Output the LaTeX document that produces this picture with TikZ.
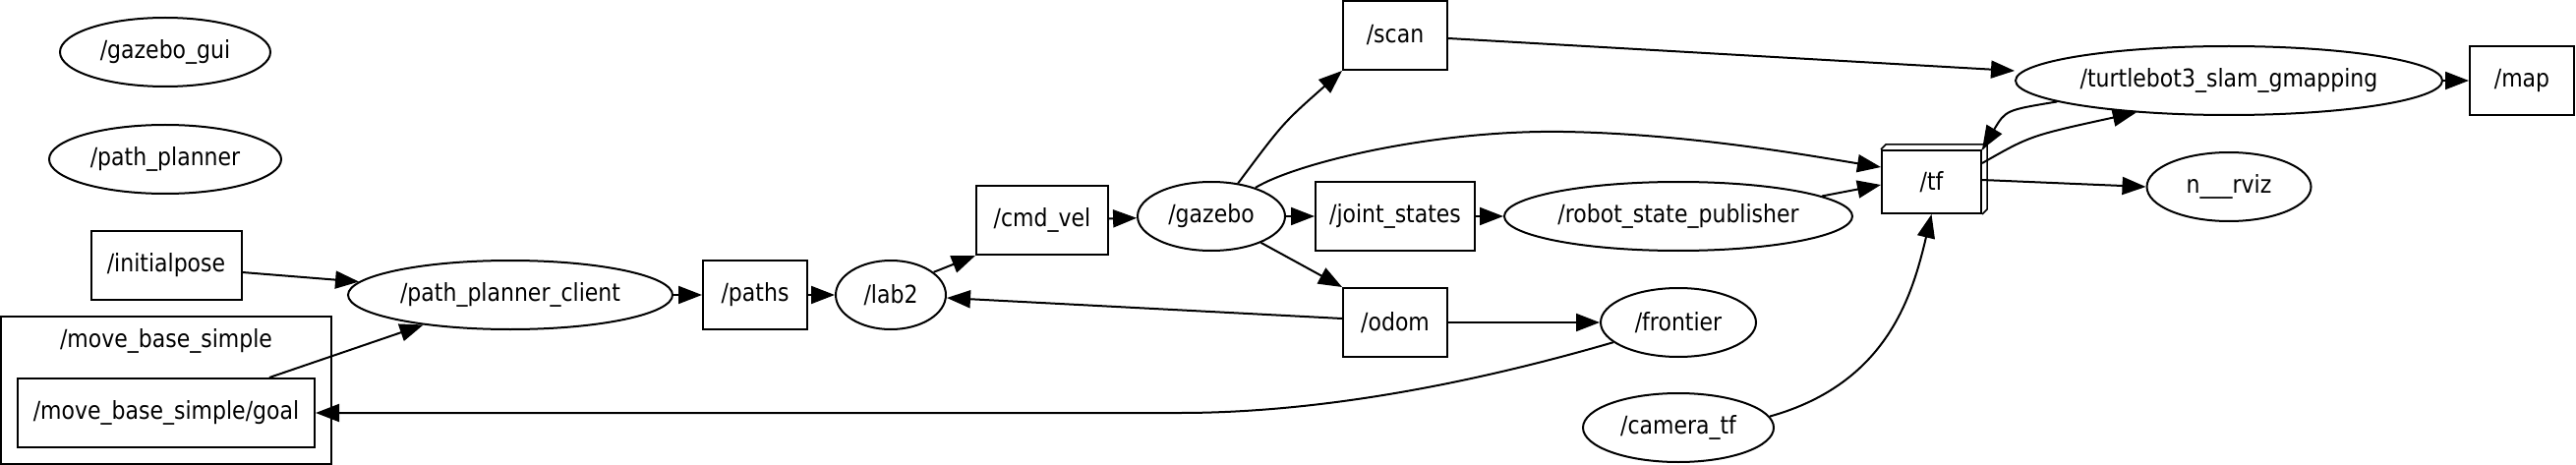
\documentclass[tikz,border=0pt]{standalone}
\usepackage{fontspec}
\setmainfont{DejaVu Sans}[FakeStretch=0.88]
\usetikzlibrary{arrows.meta,positioning,calc,shapes.geometric}

\begin{document}
\begin{tikzpicture}[x=1pt,y=-1pt,>={Triangle[length=24pt,width=18pt]},line width=2pt,
  every node/.style={font=\fontsize{25}{28}\selectfont,inner sep=0pt},
  rosnode/.style={draw,ellipse,minimum height=70pt},
  topic/.style={draw,rectangle,minimum height=70pt,minimum width=106pt}]
\useasboundingbox (0,0) rectangle (2620,473);

\node[rosnode,minimum width=214pt] (gui) at (168,53) {/gazebo\_gui};
\node[rosnode,minimum width=236pt] (planner) at (168,162) {/path\_planner};
\node[topic,minimum width=153pt] (initpose) at (169,270) {/initialpose};
\node[rosnode,minimum width=330pt] (client) at (519,300) {/path\_planner\_client};
\node[draw,minimum width=336pt,minimum height=150pt] (cluster) at (169,397) {};
\node (clusterlbl) at (169,347) {/move\_base\_simple};
\node[topic,minimum width=302pt] (goal) at (169,420) {/move\_base\_simple/goal};
\node[topic] (paths) at (768,300) {/paths};
\node[rosnode,minimum width=112pt] (lab) at (906,300) {/lab2};
\node[topic,minimum width=134pt] (cmdvel) at (1060,224) {/cmd\_vel};
\node[rosnode,minimum width=150pt] (gazebo) at (1232,220) {/gazebo};
\node[topic] (scan) at (1419,36) {/scan};
\node[topic,minimum width=162pt] (joints) at (1419,220) {/joint\_states};
\node[topic] (odom) at (1419,328) {/odom};
\node[rosnode,minimum width=354pt] (rsp) at (1707,220) {/robot\_state\_publisher};
\node[rosnode,minimum width=158pt] (frontier) at (1707,328) {/frontier};
\node[rosnode,minimum width=194pt] (camtf) at (1707,435) {/camera\_tf};
\node[draw,minimum width=101pt,minimum height=64pt] (tf) at (1964.5,185) {/tf};
\draw[line width=1.5pt] (tf.north west) -- ++(5,-5) -- ($(tf.north east)+(5,-5)$)
  -- ($(tf.south east)+(5,-5)$) -- (tf.south east) (tf.north east) -- ++(5,-5);
\node[rosnode,minimum width=434pt] (slam) at (2267,82) {/turtlebot3\_slam\_gmapping};
\node[topic] (map) at (2565,82) {/map};
\node[rosnode,minimum width=167pt] (rviz) at (2267,190) {n\_\_\_rviz};

\foreach \a/\b in {client/paths,paths/lab,cmdvel/gazebo,gazebo/joints,joints/rsp,
                   odom/frontier,slam/map}
  \draw[->] (\a) -- (\b);
\draw[->] (initpose.east |- 0,277) -- (client.175);
\draw[->] (goal.north east) ++(-47,0) coordinate (goalout) (goalout) -- (client.199);
\draw[->] (lab.28) -- (cmdvel.south west);
\draw[->] (gazebo.-28) -- (odom.north west);
\draw[->] (odom.west |- 0,324) -- (lab.east |- 0,303);
\draw[->] (gazebo.51) .. controls (1305,125) .. (scan.south west);
\draw[->] (gazebo.33) .. controls (1320,165) and (1460,132) .. (1590,134)
  .. controls (1720,136) and (1850,160) .. (tf.west |- 0,170);
\draw[->] (rsp.8) -- (tf.west |- 0,188);
\draw[->] (scan.east |- 0,39) -- (slam.west |- 0,72);
\draw[->] (slam.187) .. controls (2040,112) .. (tf.north east);
\draw[->] (tf.east |- 0,166) .. controls (2065,138) .. (slam.199);
\draw[->] (tf.east |- 0,183) -- (rviz.west);
\draw[->] (camtf.7) .. controls (1920,390) and (1945,300) .. (tf.south);
\draw[->] (frontier.197) .. controls (1480,395) and (1330,420) .. (1200,420) -- (goal.east);
\end{tikzpicture}
\end{document}
